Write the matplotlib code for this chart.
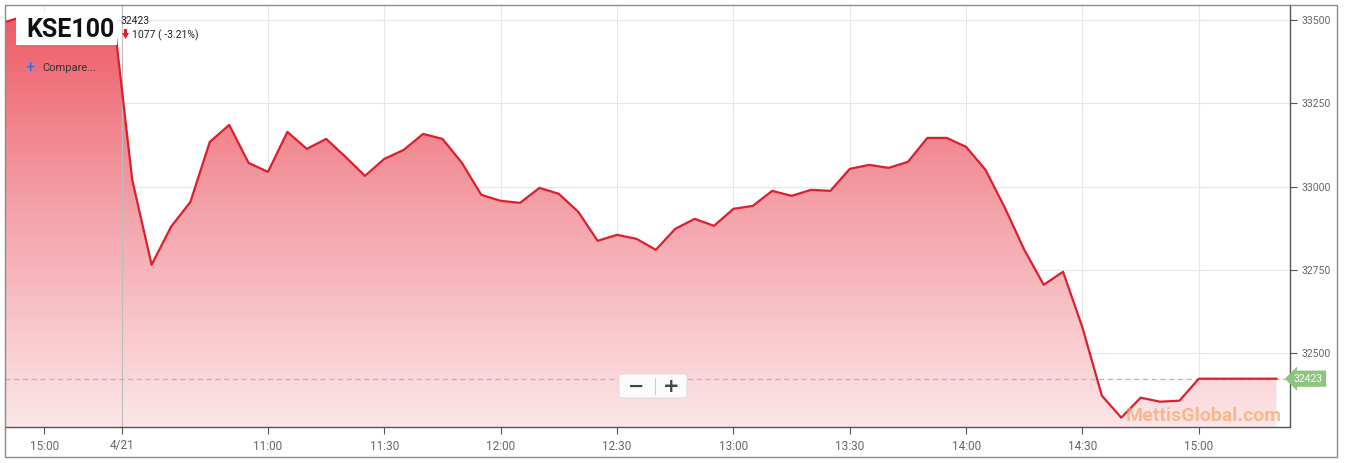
import numpy as np
import matplotlib.pyplot as plt
from matplotlib.colors import LinearSegmentedColormap
from matplotlib.patches import Rectangle, FancyBboxPatch, Polygon

# previous session tail (4/20) and today's session (4/21), 5-minute points
prev_times = ["14:50", "14:55", "15:00", "15:05", "15:10", "15:15", "15:18"]
prev_vals = [33494, 33512, 33510, 33508, 33512, 33510, 33500]

today_start = "10:25"
today_vals = [33020, 32765, 32879, 32954, 33134, 33185, 33071,
              33044, 33164, 33113, 33143, 33089, 33032, 33083, 33110, 33158, 33143,
              33071, 32975, 32957, 32951, 32996, 32978, 32924, 32837, 32855, 32843,
              32810, 32873, 32903, 32882, 32933, 32942, 32987, 32972, 32990, 32987,
              33053, 33065, 33056, 33074, 33146, 33146, 33119, 33050, 32936, 32810,
              32705, 32744, 32576, 32372, 32306, 32366, 32354, 32357, 32423, 32423,
              32423, 32423, 32423]

last_price = 32423
change = 1077
change_pct = -3.21

x_labels = ["15:00", "4/21", "11:00", "11:30", "12:00", "12:30", "13:00",
            "13:30", "14:00", "14:30", "15:00"]
y_ticks = [32500, 32750, 33000, 33250, 33500]

W, H = 1348, 463


def mins(s):
    h, m = s.split(":")
    return int(h) * 60 + int(m)


# axis coordinate: minutes from 11:00 today; previous day squeezed on the left
PREV_OFFSET = -57.7
prev_u = np.array([mins(t) - mins("15:00") + PREV_OFFSET for t in prev_times])
today_u = np.array([mins(today_start) - mins("11:00") + 5 * i for i in range(len(today_vals))])
xs = np.concatenate([prev_u, today_u])
ys = np.concatenate([prev_vals, today_vals]).astype(float)

tick_pos = [PREV_OFFSET, -37.6, 0, 30, 60, 90, 120, 150, 180, 210, 240]

fig = plt.figure(figsize=(W / 100, H / 100), dpi=100)
fig.patch.set_facecolor("white")
plt.rcParams['font.family'] = ['Roboto', 'DejaVu Sans']


def fx(x):
    return x / W


def fy(y):
    return 1 - y / H


ax = fig.add_axes([fx(5), fy(427), fx(1290) - fx(5), fy(5) - fy(427)])
ax.set_xlim(-67.8, 263.5)
ax.set_ylim(32278, 33545)

# gradient fill under the line
cmap = LinearSegmentedColormap.from_list("kse", ["#fce6e8", "#f4a4ab", "#ed5863"])
grad = np.linspace(0, 1, 256).reshape(-1, 1)
img = ax.imshow(grad, cmap=cmap, aspect="auto", origin="lower",
                extent=[-67.8, 263.5, 32278, 33545], zorder=1)
poly_pts = np.vstack([[xs[0], 32278], np.column_stack([xs, ys]), [xs[-1], 32278]])
clip = Polygon(poly_pts, closed=True, transform=ax.transData, fc="none", ec="none")
ax.add_patch(clip)
img.set_clip_path(clip)

ax.plot(xs, ys, color="#dc1f2e", lw=1.6, zorder=3)

# grid
for yt in y_ticks:
    ax.axhline(yt, color="#e6e6e6", lw=0.8, zorder=0.5)
for i, xp in enumerate(tick_pos):
    ax.axvline(xp, color="#bdbdbd" if i == 1 else "#e6e6e6", lw=0.8, zorder=2 if i == 1 else 0.5)

ax.axhline(last_price, color="#b5b5b5", lw=0.9, ls=(0, (4, 3)), zorder=2)

ax.set_xticks(tick_pos)
ax.set_xticklabels(x_labels)
ax.set_yticks(y_ticks)
ax.yaxis.tick_right()
ax.tick_params(axis="x", length=5, color="#555555", labelcolor="#666666",
               labelsize=8.5, pad=4)
ax.tick_params(axis="y", length=5, color="#555555", labelcolor="#666666",
               labelsize=7.5, pad=3)
for sp in ["left", "top"]:
    ax.spines[sp].set_visible(False)
for sp in ["right", "bottom"]:
    ax.spines[sp].set_color("#555555")
    ax.spines[sp].set_linewidth(1)

# last price tag
ax.text(1.003, last_price, str(last_price), transform=ax.get_yaxis_transform(),
        ha="left", va="center", fontsize=7.5, color="white", clip_on=False,
        bbox=dict(boxstyle="larrow,pad=0.3", fc="#8dc47d", ec="none"), zorder=5)

# outer frame
fig.add_artist(Rectangle((fx(5), fy(457)), fx(1337) - fx(5), fy(5) - fy(457),
                         transform=fig.transFigure, fill=False, ec="#8a8a8a", lw=1))

# title box
fig.add_artist(Rectangle((fx(16), fy(45)), fx(117) - fx(16), fy(12) - fy(45),
                         transform=fig.transFigure, fc="white", ec="none", zorder=4))
fig.text(fx(26), fy(30), "KSE100", fontsize=18, fontweight="bold", color="#111111",
         va="center", ha="left", zorder=5)
fig.text(fx(120), fy(21), str(last_price), fontsize=7.5, color="#222222",
         va="center", ha="left", zorder=5)
# small red down arrow
ax_arrow = [(122, 33), (129, 33), (125.5, 39)]
fig.add_artist(Polygon([(fx(px), fy(py)) for px, py in ax_arrow], closed=True,
                       transform=fig.transFigure, fc="#e0202e", ec="none", zorder=5))
fig.add_artist(Rectangle((fx(124), fy(33)), fx(127) - fx(124), fy(29) - fy(33),
                         transform=fig.transFigure, fc="#e0202e", ec="none", zorder=5))
fig.text(fx(132), fy(35), f"{change} ( {change_pct:.2f}%)", fontsize=7.5,
         color="#222222", va="center", ha="left", zorder=5)
fig.text(fx(25), fy(68), "+", fontsize=12, color="#2a6fdb", va="center",
         ha="left", zorder=5)
fig.text(fx(42), fy(68), "Compare...", fontsize=8, color="#333333", va="center",
         ha="left", zorder=5)

# zoom buttons
fig.add_artist(FancyBboxPatch((fx(619), fy(398)), fx(687) - fx(619), fy(374) - fy(398),
                              boxstyle="round,pad=0,rounding_size=0.004",
                              transform=fig.transFigure, fc="#fbfbfb",
                              ec="#dddddd", lw=0.8, zorder=5))
fig.add_artist(plt.Line2D([fx(655), fx(655)], [fy(378), fy(394)],
                          transform=fig.transFigure, color="#cccccc", lw=0.8, zorder=6))
fig.text(fx(636), fy(386), "\u2212", fontsize=14, fontweight="bold", color="#444444",
         ha="center", va="center", zorder=6, family=["DejaVu Sans"])
fig.text(fx(671), fy(386), "+", fontsize=14, fontweight="bold", color="#444444",
         ha="center", va="center", zorder=6, family=["DejaVu Sans"])

# watermark
fig.text(fx(1204), fy(416), "MettisGlobal.com", fontsize=14, fontweight="bold",
         color="#f5a25d", alpha=0.65, ha="center", va="center", zorder=6)

fig.savefig("out.png", dpi=100)
